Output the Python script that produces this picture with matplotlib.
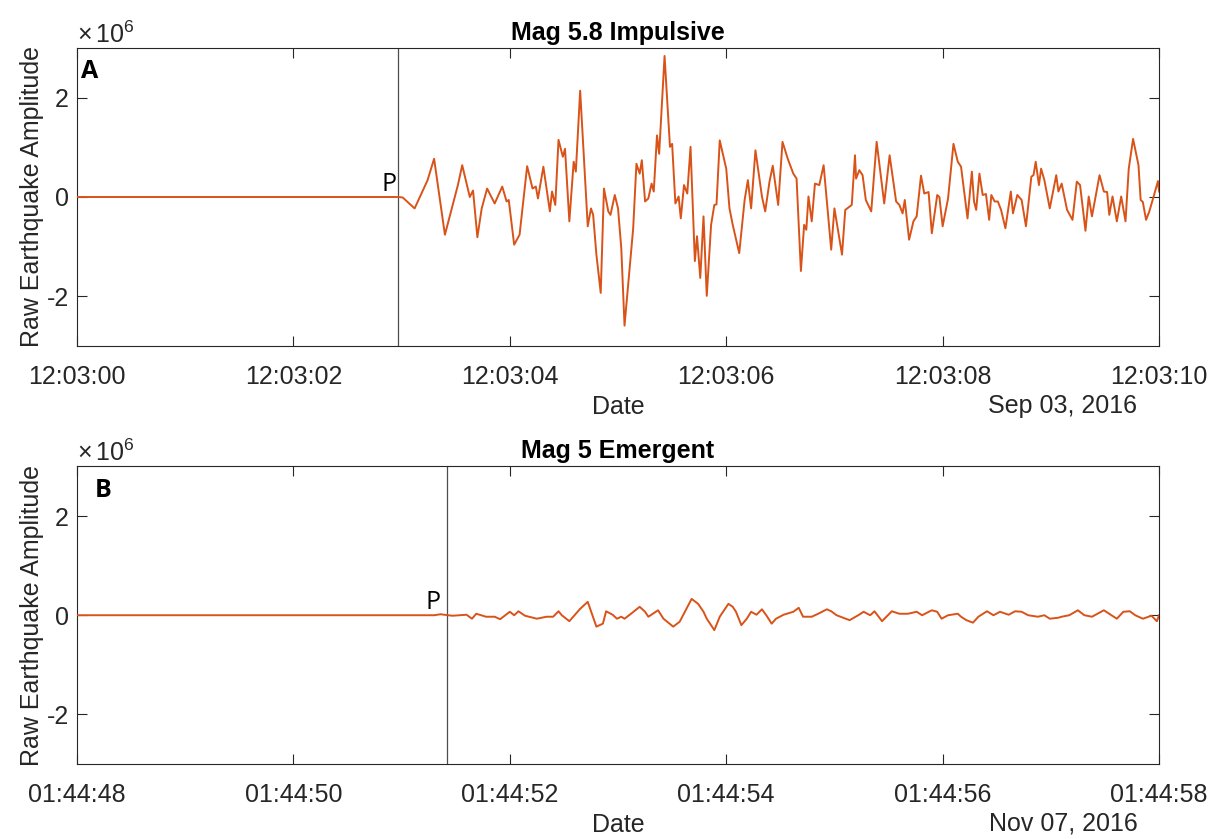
import datetime as dt
import matplotlib
matplotlib.use("Agg")
import matplotlib.pyplot as plt
import matplotlib.dates as mdates
from matplotlib.ticker import FuncFormatter

plt.rcParams['font.family'] = ['Liberation Sans', 'DejaVu Sans']
plt.rcParams['axes.unicode_minus'] = False
plt.rcParams['mathtext.fontset'] = 'custom'
plt.rcParams['mathtext.rm'] = 'Liberation Sans'

# ---------------- data ----------------
titles = ["Mag 5.8 Impulsive", "Mag 5 Emergent"]
panel_labels = ["A", "B"]
start_a = dt.datetime(2016, 9, 3, 12, 3, 0)
start_b = dt.datetime(2016, 11, 7, 1, 44, 48)
date_strings = ["Sep 03, 2016", "Nov 07, 2016"]
p_arrival = [2.97, 3.42]  # seconds after start
exponent = 6

# Panel A: seconds after start, amplitude (x1e6)
t_a = [0.0, 2.93, 2.97, 3.01, 3.12, 3.24, 3.30, 3.40, 3.52, 3.56, 3.63, 3.66, 3.70, 3.74,
       3.79, 3.86, 3.93, 3.97, 3.99, 4.04, 4.09, 4.16, 4.21, 4.24, 4.26, 4.31, 4.37,
       4.39, 4.42, 4.45, 4.49, 4.51, 4.55, 4.59, 4.61, 4.65, 4.72, 4.75, 4.77, 4.80,
       4.84, 4.87, 4.91, 4.93, 4.97, 5.00, 5.03, 5.06, 5.11, 5.14, 5.17, 5.20, 5.22,
       5.25, 5.28, 5.31, 5.33, 5.36, 5.38, 5.43, 5.48, 5.50, 5.53, 5.56, 5.58, 5.61,
       5.64, 5.67, 5.71, 5.73, 5.76, 5.79, 5.82, 5.86, 5.89, 5.91, 5.94, 6.00, 6.03,
       6.06, 6.12, 6.17, 6.20, 6.23, 6.27, 6.33, 6.36, 6.40, 6.43, 6.48, 6.52, 6.57,
       6.62, 6.65, 6.69, 6.72, 6.74, 6.76, 6.79, 6.82, 6.86, 6.90, 6.97, 7.00, 7.03,
       7.07, 7.10, 7.16, 7.19, 7.20, 7.23, 7.26, 7.29, 7.34, 7.39, 7.46, 7.51, 7.57,
       7.60, 7.63, 7.65, 7.69, 7.73, 7.76, 7.80, 7.83, 7.87, 7.90, 7.95, 7.97, 8.00,
       8.05, 8.10, 8.14, 8.17, 8.23, 8.27, 8.29, 8.31, 8.34, 8.37, 8.40, 8.43, 8.45,
       8.48, 8.51, 8.54, 8.58, 8.63, 8.65, 8.69, 8.73, 8.77, 8.82, 8.84, 8.86, 8.89,
       8.91, 8.94, 8.99, 9.05, 9.07, 9.10, 9.15, 9.20, 9.24, 9.27, 9.32, 9.35, 9.38,
       9.45, 9.49, 9.52, 9.54, 9.57, 9.61, 9.65, 9.69, 9.72, 9.76, 9.81, 9.83, 9.85,
       9.88, 9.91, 9.95, 9.99, 10.0]
amp_a = [0.0, 0.0, 0.0, -0.01, -0.23, 0.34, 0.77, -0.76, 0.24, 0.64, 0.0, 0.13, -0.81, -0.23,
         0.17, -0.13, 0.21, -0.09, -0.06, -0.96, -0.76, 0.62, 0.17, 0.21, -0.03, 0.61, -0.29,
         0.11, -0.16, 1.15, 0.81, 0.97, -0.49, 0.71, 0.51, 2.14, -0.59, -0.23, -0.36, -1.16,
         -1.93, 0.17, -0.29, -0.36, 0.04, -0.23, -1.03, -2.59, -1.36, -0.63, 0.67, 0.47, 0.74,
         -0.09, -0.03, 0.27, 0.11, 1.24, 0.87, 2.84, 1.01, 1.07, -0.13, 0.01, -0.43, 0.24,
         0.07, 1.01, -1.29, -0.79, -1.63, -0.39, -1.99, -0.56, -0.16, -0.15, 1.14, 0.57, -0.23,
         -0.56, -1.13, -0.06, 0.34, -0.23, 0.94, 0.01, -0.29, 0.31, 0.63, -0.16, 1.11, 0.76,
         0.47, 0.37, -1.49, -0.56, -0.66, 0.01, -0.49, 0.27, 0.24, 0.64, -1.06, -0.23, -0.63,
         -1.16, -0.26, -0.16, 0.84, 0.37, 0.54, 0.44, -0.06, -0.29, 1.11, -0.13, 0.84, -0.09,
         -0.16, -0.33, -0.06, -0.86, -0.49, -0.39, 0.43, 0.07, 0.10, -0.73, 0.04, 0.0, -0.59,
         -0.03, 1.07, 0.71, 0.61, -0.43, 0.51, -0.09, -0.26, 0.47, 0.04, 0.06, -0.46, 0.04,
         -0.09, -0.09, -0.26, -0.63, 0.11, -0.33, 0.04, -0.06, -0.59, 0.41, 0.44, 0.71, 0.24,
         0.57, 0.34, -0.23, 0.44, 0.11, 0.27, -0.26, -0.46, 0.31, 0.24, -0.68, 0.01, -0.39,
         0.44, 0.11, 0.10, -0.36, 0.01, -0.49, 0.01, -0.49, 0.57, 1.17, 0.64, -0.06, -0.10,
         -0.46, -0.29, 0.01, 0.32, 0.11]

# Panel B: seconds after start, amplitude (x1e6)
t_b = [0.0, 3.30, 3.36, 3.43, 3.47, 3.60, 3.65, 3.69, 3.78, 3.86, 3.91, 4.00, 4.04, 4.08,
       4.14, 4.25, 4.34, 4.40, 4.45, 4.48, 4.55, 4.65, 4.72, 4.80, 4.86, 4.89, 4.95, 4.99,
       5.03, 5.06, 5.12, 5.20, 5.25, 5.28, 5.37, 5.42, 5.51, 5.57, 5.68, 5.74, 5.79, 5.82,
       5.89, 5.94, 6.02, 6.06, 6.09, 6.14, 6.19, 6.23, 6.28, 6.33, 6.37, 6.42, 6.46, 6.53,
       6.62, 6.67, 6.71, 6.79, 6.85, 6.93, 6.97, 7.02, 7.08, 7.14, 7.22, 7.27, 7.33, 7.37,
       7.44, 7.53, 7.60, 7.68, 7.76, 7.81, 7.90, 7.95, 7.99, 8.05, 8.14, 8.17, 8.22, 8.28,
       8.33, 8.41, 8.47, 8.53, 8.61, 8.67, 8.73, 8.79, 8.88, 8.94, 8.99, 9.07, 9.10, 9.17,
       9.25, 9.31, 9.38, 9.49, 9.56, 9.61, 9.67, 9.73, 9.78, 9.85, 9.93, 9.98, 10.0]
amp_b = [0.0, 0.0, 0.02, 0.0, -0.01, 0.01, -0.07, 0.03, -0.03, -0.03, -0.08, 0.07, 0.0, 0.08,
         -0.01, -0.07, -0.03, -0.03, 0.08, 0.0, -0.12, 0.13, 0.27, -0.23, -0.17, 0.08, 0.01, -0.07,
         -0.03, -0.07, 0.03, 0.17, 0.07, -0.03, 0.10, -0.07, -0.23, -0.13, 0.33, 0.23, 0.07, -0.07,
         -0.30, -0.03, 0.23, 0.17, 0.07, -0.20, -0.07, 0.07, 0.01, 0.12, 0.0, -0.17, -0.07, 0.01,
         0.07, 0.15, -0.03, -0.03, 0.03, 0.12, 0.08, 0.0, -0.05, -0.10, 0.0, 0.07, 0.0, 0.08,
         -0.12, 0.08, 0.03, 0.03, 0.07, 0.0, 0.10, 0.07, -0.07, 0.0, 0.03, -0.03, -0.10, -0.15,
         -0.03, 0.08, 0.0, 0.07, 0.01, 0.08, 0.07, 0.0, -0.03, 0.0, -0.07, -0.05, -0.03, 0.0,
         0.10, 0.0, -0.03, 0.10, 0.0, -0.07, 0.07, 0.08, 0.0, -0.07, -0.01, -0.12, 0.0]

yticks = [-2, 0, 2]
ylim = (-3, 3)
tick_step = 2

# ---------------- plot ----------------
LINE = '#D95319'
AX = '#262626'
FS = 18

fig = plt.figure(figsize=(12.11, 8.39), dpi=100)
axes_rects = [[0.0636, 0.5876, 0.8935, 0.3552], [0.0636, 0.0894, 0.8935, 0.3546]]
starts = [start_a, start_b]
series = [(t_a, amp_a), (t_b, amp_b)]
label_x = [0.004, 0.016]
p_gap = [0.02, 0.06]

for i in range(2):
    ax = fig.add_axes(axes_rects[i])
    st = starts[i]
    ts, amps = series[i]
    x = [st + dt.timedelta(seconds=s) for s in ts]
    ax.plot(x, amps, color=LINE, lw=1.4, zorder=3, solid_joinstyle='round')
    xp = st + dt.timedelta(seconds=p_arrival[i])
    ax.axvline(xp, color='#4d4d4d', lw=0.9, zorder=2)
    ax.set_xlim(st, st + dt.timedelta(seconds=10))
    ax.set_ylim(*ylim)
    ax.set_xticks([st + dt.timedelta(seconds=s) for s in range(0, 11, tick_step)])
    ax.xaxis.set_major_formatter(mdates.DateFormatter('%H:%M:%S'))
    ax.set_yticks(yticks)
    ax.yaxis.set_major_formatter(FuncFormatter(lambda v, pos: '%g' % v))
    ax.tick_params(direction='in', length=7, width=0.8, color=AX, labelcolor=AX,
                   labelsize=FS, top=True, right=True)
    ax.tick_params(axis='x', pad=14)
    ax.tick_params(axis='y', pad=6)
    for sp in ax.spines.values():
        sp.set_color(AX)
        sp.set_linewidth(0.8)
    ax.set_title(titles[i], fontsize=FS, fontweight='bold', color='black', pad=6)
    ax.set_ylabel("Raw Earthquake Amplitude", fontsize=FS, color=AX, labelpad=2)
    ax.set_xlabel("Date", fontsize=FS, color=AX, labelpad=4)
    ax.text(0.98, -0.2, date_strings[i], transform=ax.transAxes, ha='right',
            va='center', fontsize=FS, color=AX)
    ax.text(0.0, 1.045, r'$\times\,10^{%d}$' % exponent, transform=ax.transAxes,
            ha='left', va='center', fontsize=FS, color=AX)
    ax.text(label_x[i], 0.92, panel_labels[i], transform=ax.transAxes, ha='left', va='center',
            fontsize=FS, fontweight='bold', family=['Open Sans', 'DejaVu Sans'])
    ax.text(xp - dt.timedelta(seconds=p_gap[i]), 0.25, "P", ha='right', va='center',
            fontsize=FS, family=['Open Sans', 'DejaVu Sans'], color='black')

fig.savefig("out.png", dpi=100)
